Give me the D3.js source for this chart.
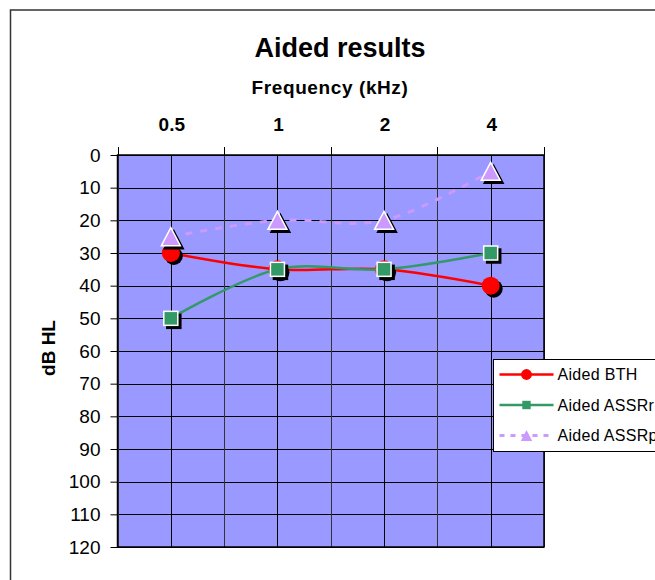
<!DOCTYPE html>
<html>
<head>
<meta charset="utf-8">
<script src="https://cdn.jsdelivr.net/npm/d3@7"></script>
<style>
  html, body { margin: 0; padding: 0; background: #fff; }
  svg { display: block; font-family: "Liberation Sans", Arial, sans-serif; }
</style>
</head>
<body>
<svg id="chart" width="655" height="580"></svg>
<script>
// Frequenzen (Kategorien) und Messwerte
const frequencies = ["0.5", "1", "2", "4"];
const yTicks = [0, 10, 20, 30, 40, 50, 60, 70, 80, 90, 100, 110, 120];
const aidedBTH = [30, 35, 35, 40];
const aidedASSRr = [50, 35, 35, 30];
const aidedASSRp = [25, 20, 20, 5];

const seriesList = [
  { name: "Aided BTH", values: aidedBTH, color: "#ff0000", shape: "circle", dash: null },
  { name: "Aided ASSRr", values: aidedASSRr, color: "#339966", shape: "square", dash: null },
  { name: "Aided ASSRp", values: aidedASSRp, color: "#cc99ff", shape: "triangle", dash: "7,8" }
];

const svg = d3.select("#chart");

// Plotbereich
const plot = { left: 117.5, right: 544, top: 155, bottom: 547 };

// äußerer Rahmen
svg.append("rect")
  .attr("x", 10.5)
  .attr("y", 10)
  .attr("width", 700)
  .attr("height", 600)
  .attr("fill", "#fff")
  .attr("stroke", "#333")
  .attr("stroke-width", 1.5);

const xBand = d3.scaleBand()
  .domain(frequencies)
  .range([plot.left, plot.right])
  .padding(0);
const xPos = f => xBand(f) + xBand.bandwidth() / 2;

const yScale = d3.scaleLinear()
  .domain([0, 120])
  .range([plot.top, plot.bottom]);

// Hintergrund
svg.append("rect")
  .attr("x", plot.left)
  .attr("y", plot.top)
  .attr("width", plot.right - plot.left)
  .attr("height", plot.bottom - plot.top)
  .attr("fill", "#9999ff");

// Gitter
const grid = svg.append("g").attr("stroke", "#000").attr("stroke-width", 1);
grid.selectAll("line.h")
  .data(yTicks)
  .enter().append("line")
    .attr("x1", plot.left)
    .attr("x2", plot.right)
    .attr("y1", d => Math.round(yScale(d)) + 0.5)
    .attr("y2", d => Math.round(yScale(d)) + 0.5);

const vLines = [];
frequencies.forEach(f => {
  vLines.push(xBand(f));
  vLines.push(xPos(f));
});
vLines.push(plot.right);
grid.selectAll("line.v")
  .data(vLines)
  .enter().append("line")
    .attr("x1", d => Math.round(d) + 0.5)
    .attr("x2", d => Math.round(d) + 0.5)
    .attr("y1", plot.top)
    .attr("y2", plot.bottom)
    .attr("stroke", (d, i) => i % 2 === 0 ? "#333" : "#000");

// Rahmen Plot
svg.append("rect")
  .attr("x", plot.left)
  .attr("y", plot.top)
  .attr("width", plot.right - plot.left)
  .attr("height", plot.bottom - plot.top)
  .attr("fill", "none")
  .attr("stroke", "#000")
  .attr("stroke-width", 1.5);

// Achsen
const yAxis = d3.axisLeft(yScale)
  .tickValues(yTicks)
  .tickSize(7)
  .tickPadding(10)
  .tickFormat(d3.format("d"));
const yAxisGroup = svg.append("g")
  .attr("transform", `translate(${plot.left},0)`)
  .call(yAxis);
yAxisGroup.select(".domain").remove();
yAxisGroup.selectAll("text")
  .attr("font-size", "19px")
  .attr("font-family", "Liberation Sans, Arial, sans-serif")
  .attr("fill", "#000");

// Top-Achse: Tick-Striche an Bandgrenzen, Beschriftung in Bandmitte
const topTicks = frequencies.map(f => xBand(f)).concat([plot.right]);
svg.append("g").selectAll("line")
  .data(topTicks)
  .enter().append("line")
    .attr("x1", d => Math.round(d) + 0.5)
    .attr("x2", d => Math.round(d) + 0.5)
    .attr("y1", plot.top - 8)
    .attr("y2", plot.top)
    .attr("stroke", "#000");

svg.append("g").selectAll("text")
  .data(frequencies)
  .enter().append("text")
    .attr("x", d => xPos(d) + 1)
    .attr("y", 131)
    .attr("text-anchor", "middle")
    .attr("font-size", "19px")
    .attr("font-weight", "bold")
    .text(d => d);

// Titel und Achsentitel
svg.append("text")
  .attr("x", 340)
  .attr("y", 57)
  .attr("text-anchor", "middle")
  .attr("font-size", "27px")
  .attr("font-weight", "bold")
  .text("Aided results");

svg.append("text")
  .attr("x", 330)
  .attr("y", 94)
  .attr("text-anchor", "middle")
  .attr("font-size", "19px")
  .attr("font-weight", "bold")
  .attr("letter-spacing", "0.6px")
  .text("Frequency (kHz)");

svg.append("text")
  .attr("transform", `translate(55,${(plot.top + plot.bottom) / 2 - 3}) rotate(-90)`)
  .attr("text-anchor", "middle")
  .attr("font-size", "19px")
  .attr("font-weight", "bold")
  .text("dB HL");

// Marker
function trianglePath(s) {
  const h = s * 0.95;
  return `M0,${-h / 2}L${s / 2},${h / 2}L${-s / 2},${h / 2}Z`;
}

function drawMarker(sel, shape, color, scale, shadow) {
  if (shape === "circle") {
    sel.append("circle")
      .attr("r", 9 * scale)
      .attr("fill", shadow ? "#000" : color);
  } else if (shape === "square") {
    const s = 14 * scale;
    sel.append("rect")
      .attr("x", -s / 2).attr("y", -s / 2)
      .attr("width", s).attr("height", s)
      .attr("fill", shadow ? "#000" : color)
      .attr("stroke", shadow ? "#000" : "#fff")
      .attr("stroke-width", scale < 1 ? 0 : 1.5);
  } else {
    sel.append("path")
      .attr("d", trianglePath(19 * scale))
      .attr("fill", shadow ? "#000" : color)
      .attr("stroke", shadow ? "#000" : "#fff")
      .attr("stroke-width", scale < 1 ? 0 : 1.5)
      .attr("stroke-linejoin", "miter");
  }
}

const line = d3.line()
  .x(d => xPos(d.f))
  .y(d => yScale(d.v))
  .curve(d3.curveCatmullRom.alpha(0));

seriesList.forEach(s => {
  const pts = frequencies.map((f, i) => ({ f, v: s.values[i] }));
  const g = svg.append("g");
  g.append("path")
    .datum(pts)
    .attr("d", line)
    .attr("fill", "none")
    .attr("stroke", s.color)
    .attr("stroke-width", s.dash ? 3 : 2.5)
    .attr("stroke-dasharray", s.dash);

  pts.forEach(p => {
    const sh = g.append("g")
      .attr("transform", `translate(${xPos(p.f) + 3},${yScale(p.v) + 3})`);
    drawMarker(sh, s.shape, s.color, 1, true);
    const mk = g.append("g")
      .attr("transform", `translate(${xPos(p.f)},${yScale(p.v)})`);
    drawMarker(mk, s.shape, s.color, 1, false);
  });
});

// Legende
const legend = svg.append("g").attr("transform", "translate(493.5,359.5)");
legend.append("rect")
  .attr("width", 200)
  .attr("height", 92)
  .attr("fill", "#fff")
  .attr("stroke", "#000")
  .attr("stroke-width", 1);

const lg = legend.selectAll("g.entry")
  .data(seriesList)
  .enter().append("g")
    .attr("transform", (d, i) => `translate(0,${15 + i * 30.5})`);

lg.append("line")
  .attr("x1", 6)
  .attr("x2", 60)
  .attr("y1", 0)
  .attr("y2", 0)
  .attr("stroke", d => d.color)
  .attr("stroke-width", d => d.dash ? 3 : 2.5)
  .attr("stroke-dasharray", d => d.dash ? "5,6" : null);

lg.each(function(d) {
  const m = d3.select(this).append("g").attr("transform", "translate(33,0)");
  drawMarker(m, d.shape, d.color, 0.6, false);
});

lg.append("text")
  .attr("x", 64)
  .attr("y", 0)
  .attr("dy", "0.35em")
  .attr("font-size", "16px")
  .attr("letter-spacing", "0.3px")
  .attr("fill", "#000")
  .text(d => d.name);
</script>
</body>
</html>
